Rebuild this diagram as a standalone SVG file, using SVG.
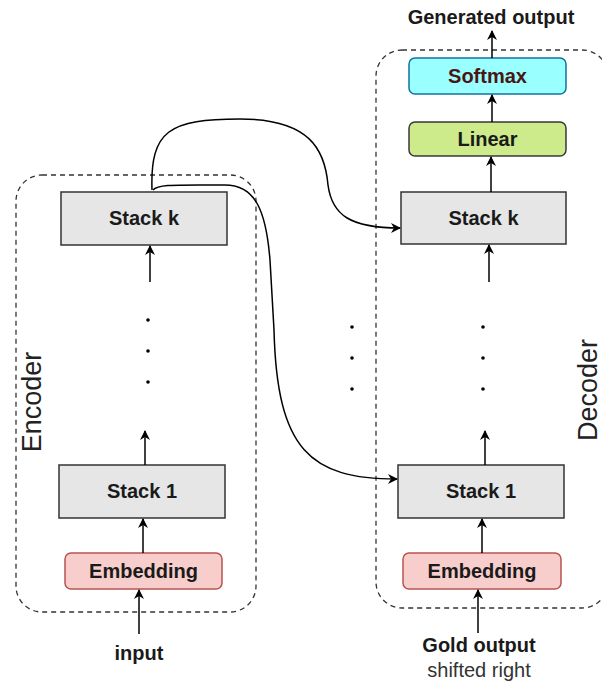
<svg xmlns="http://www.w3.org/2000/svg" width="602" height="686" viewBox="0 0 602 686">
<defs>
<marker id="ah" viewBox="0 0 10 10" refX="9" refY="5" markerWidth="10" markerHeight="10" markerUnits="userSpaceOnUse" orient="auto">
<path d="M0,0 L10,5 L0,10 L3,5 Z" fill="#000"/>
</marker>
</defs>
<style>
text{font-family:"Liberation Sans",Arial,sans-serif;fill:#1a1a1a}
.b{font-weight:bold;font-size:20px;text-anchor:middle}
.n{font-size:20px;text-anchor:middle}
.big{font-size:27px;text-anchor:middle;fill:#222}
.grp{fill:none;stroke:#333;stroke-width:1.3;stroke-dasharray:5 4}
.stack{fill:#e6e6e6;stroke:#333;stroke-width:1.5}
.emb{fill:#f8cecc;stroke:#b85450;stroke-width:1.5}
.lin{fill:#cdeb8b;stroke:#36393d;stroke-width:1.5}
.soft{fill:#99ffff;stroke:#10739e;stroke-width:1.5}
.c{fill:none;stroke:#000;stroke-width:1.5;marker-end:url(#ah)}
.dot{fill:#000}
</style>
<g id="encoder">
<rect class="grp" x="16" y="175" width="240" height="437" rx="26"/>
<text class="big" transform="translate(41,402) rotate(-90)">Encoder</text>
</g>
<g id="decoder">
<rect class="grp" x="376" y="50" width="232" height="558" rx="26"/>
<text class="big" transform="translate(597,390) rotate(-90)">Decoder</text>
</g>
<g id="enc-stack-k"><rect class="stack" x="61" y="192" width="166" height="53"/><text class="b" x="144" y="225">Stack k</text></g>
<g id="enc-stack-1"><rect class="stack" x="59" y="465" width="166" height="53"/><text class="b" x="142" y="498">Stack 1</text></g>
<g id="enc-embedding"><rect class="emb" x="65" y="553" width="157" height="36" rx="6"/><text class="b" x="143.5" y="578">Embedding</text></g>
<g id="dec-softmax"><rect class="soft" x="409" y="58" width="157" height="36" rx="6"/><text class="b" x="487.5" y="83" style="fill:#4a1515">Softmax</text></g>
<g id="dec-linear"><rect class="lin" x="409" y="122" width="157" height="34" rx="6"/><text class="b" x="487.5" y="146">Linear</text></g>
<g id="dec-stack-k"><rect class="stack" x="401" y="192" width="165" height="52"/><text class="b" x="483.5" y="225">Stack k</text></g>
<g id="dec-stack-1"><rect class="stack" x="398" y="465" width="166" height="53"/><text class="b" x="481" y="498">Stack 1</text></g>
<g id="dec-embedding"><rect class="emb" x="403" y="553" width="158" height="36" rx="6"/><text class="b" x="482" y="578">Embedding</text></g>
<g id="labels">
<text class="b" x="139" y="660">input</text>
<text class="b" x="479" y="652">Gold output</text>
<text class="n" x="479" y="677" style="fill:#333">shifted right</text>
<text class="b" x="491" y="24">Generated output</text>
</g>
<g id="dots">
<circle class="dot" cx="148" cy="320" r="1.8"/><circle class="dot" cx="148" cy="351" r="1.8"/><circle class="dot" cx="148" cy="382" r="1.8"/>
<circle class="dot" cx="352" cy="327" r="1.8"/><circle class="dot" cx="352" cy="358" r="1.8"/><circle class="dot" cx="352" cy="389" r="1.8"/>
<circle class="dot" cx="483" cy="327" r="1.8"/><circle class="dot" cx="483" cy="358" r="1.8"/><circle class="dot" cx="483" cy="389" r="1.8"/>
</g>
<g id="connectors">
<path class="c" d="M139,634 L139,590"/>
<path class="c" d="M143,553 L143,519"/>
<path class="c" d="M145,465 L145,431"/>
<path class="c" d="M150,282 L150,246"/>
<path class="c" d="M478,633 L478,590"/>
<path class="c" d="M482,553 L482,519"/>
<path class="c" d="M485,465 L485,431"/>
<path class="c" d="M489,282 L489,245"/>
<path class="c" d="M491,192 L491,157"/>
<path class="c" d="M492,122 L492,95"/>
<path class="c" d="M492,58 L492,31"/>
<path class="c" d="M152,190 C150,130 170,119 240,119 C310,119 325,150 328,185 C332,215 350,228 400,228"/>
<path class="c" d="M153,190 C158,184 175,185 225,185 C255,185 266,210 270,260 L274,330 C277,450 310,479 397,479"/>
</g>
</svg>
